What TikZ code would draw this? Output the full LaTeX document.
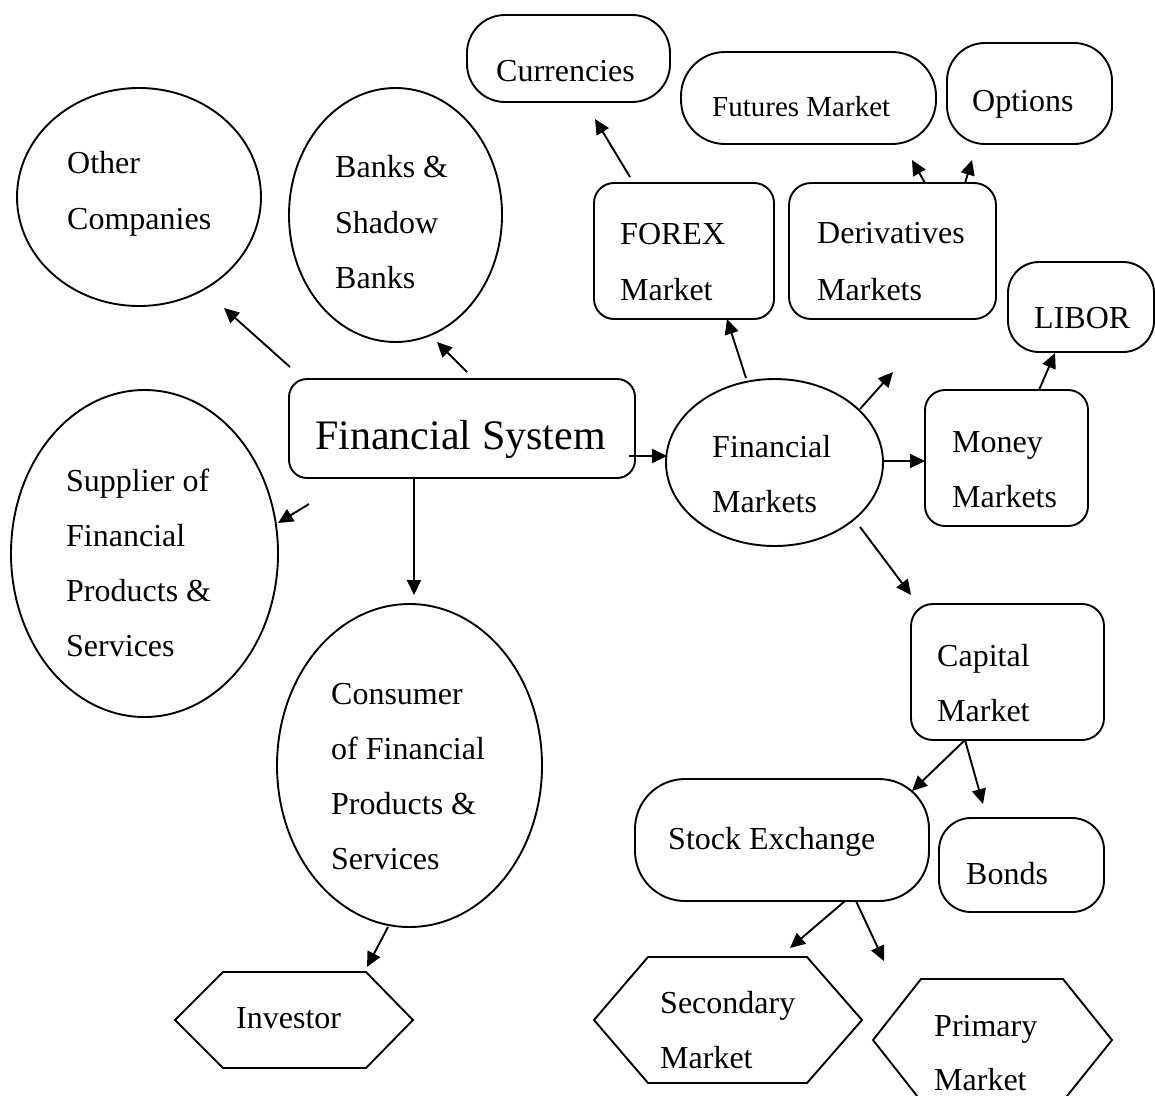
\documentclass[tikz,border=0pt]{standalone}
\usepackage{fontspec}
\setmainfont{Liberation Serif}
\usetikzlibrary{shapes.geometric,arrows.meta}
\begin{document}
\begin{tikzpicture}[x=1pt,y=-1pt,
  lw/.style={line width=1.9pt},
  oval/.style={draw,ellipse,lw,inner sep=0pt},
  rbox/.style={draw,rectangle,lw,inner sep=0pt},
  txt/.style={anchor=base west,inner sep=0pt,font=\fontsize{32}{32}\selectfont},
  txtsm/.style={txt,font=\fontsize{29}{29}\selectfont},
  txtbig/.style={txt,font=\fontsize{42}{42}\selectfont},
  arr/.style={lw,-{Triangle[length=15pt,width=14pt]}},
]
\useasboundingbox (0,0) rectangle (1155,1095);
\clip (0,0) rectangle (1155,1095);
\fill[white] (0,0) rectangle (1155,1095);

% ---------- shapes ----------
\node[oval,minimum width=244pt,minimum height=218pt] (OC) at (139,197) {};
\node[oval,minimum width=213pt,minimum height=254pt] (BK) at (395.5,215) {};
\node[oval,minimum width=267pt,minimum height=327pt] (SUP) at (144.5,553.5) {};
\node[oval,minimum width=265pt,minimum height=323pt] (CON) at (409.5,765.5) {};
\node[oval,minimum width=217pt,minimum height=167pt] (FM) at (774.5,462.5) {};

\node[rbox,rounded corners=38pt,minimum width=203pt,minimum height=87pt] (CUR) at (568.5,58.5) {};
\node[rbox,rounded corners=44pt,minimum width=255pt,minimum height=92pt] (FUT) at (808.5,98) {};
\node[rbox,rounded corners=38pt,minimum width=165pt,minimum height=101pt] (OPT) at (1029.5,93.5) {};
\node[rbox,rounded corners=20pt,minimum width=180pt,minimum height=136pt] (FX) at (684,251) {};
\node[rbox,rounded corners=22pt,minimum width=207pt,minimum height=136pt] (DER) at (892.5,251) {};
\node[rbox,rounded corners=31pt,minimum width=146pt,minimum height=90pt] (LIB) at (1081,307) {};
\node[rbox,rounded corners=18pt,minimum width=346pt,minimum height=99pt] (FS) at (462,428.5) {};
\node[rbox,rounded corners=20pt,minimum width=163pt,minimum height=136pt] (MM) at (1006.5,458) {};
\node[rbox,rounded corners=22pt,minimum width=193pt,minimum height=136pt] (CAP) at (1007.5,672) {};
\node[rbox,rounded corners=50pt,minimum width=294pt,minimum height=122pt] (SE) at (782,840) {};
\node[rbox,rounded corners=32pt,minimum width=165pt,minimum height=94pt] (BON) at (1021.5,865) {};

% hexagons
\coordinate (INV) at (294,1020);
\draw[lw] (INV) ++(-119,0) -- ++(48,-48) -- ++(143,0) -- ++(47,48) -- ++(-47,48) -- ++(-143,0) -- cycle;
\coordinate (SEC) at (728,1020);
\draw[lw] (SEC) ++(-134,0) -- ++(54,-63) -- ++(159,0) -- ++(55,63) -- ++(-55,63) -- ++(-159,0) -- cycle;
\coordinate (PRI) at (992.5,1040);
\draw[lw] (PRI) ++(-119.5,0) -- ++(48,-61) -- ++(142,0) -- ++(49,61) -- ++(-49,61) -- ++(-142,0) -- cycle;

% ---------- texts ----------
\node[txt] (tOC1) at (67,173) {Other};
\node[txt] (tOC2) at (67,229) {Companies};
\node[txt] (tBK1) at (335,177) {Banks \&};
\node[txt] (tBK2) at (335,233) {Shadow};
\node[txt] (tBK3) at (335,288) {Banks};
\node[txt] (tCUR) at (496,81) {Currencies};
\node[txtsm] (tFUT) at (712,116) {Futures Market};
\node[txt] (tOPT) at (972,111) {Options};
\node[txt] (tFX1) at (620,244) {FOREX};
\node[txt] (tFX2) at (620,300) {Market};
\node[txt] (tDER1) at (817,243) {Derivatives};
\node[txt] (tDER2) at (817,300) {Markets};
\node[txt] (tLIB) at (1034,328) {LIBOR};
\node[txtbig] (tFS) at (315,449) {Financial System};
\node[txt] (tFM1) at (712,457) {Financial};
\node[txt] (tFM2) at (712,512) {Markets};
\node[txt] (tMM1) at (952,452) {Money};
\node[txt] (tMM2) at (952,507) {Markets};
\node[txt] (tSUP1) at (66,491) {Supplier of};
\node[txt] (tSUP2) at (66,546) {Financial};
\node[txt] (tSUP3) at (66,601) {Products \&};
\node[txt] (tSUP4) at (66,656) {Services};
\node[txt] (tCAP1) at (937,666) {Capital};
\node[txt] (tCAP2) at (937,721) {Market};
\node[txt] (tCON1) at (331,704) {Consumer};
\node[txt] (tCON2) at (331,759) {of Financial};
\node[txt] (tCON3) at (331,814) {Products \&};
\node[txt] (tCON4) at (331,869) {Services};
\node[txt] (tSE) at (668,849) {Stock Exchange};
\node[txt] (tBON) at (966,884) {Bonds};
\node[txt] (tINV) at (236,1028) {Investor};
\node[txt] (tSEC1) at (660,1013) {Secondary};
\node[txt] (tSEC2) at (660,1068) {Market};
\node[txt] (tPRI1) at (934,1036) {Primary};
\node[txt] (tPRI2) at (934,1090) {Market};

% ---------- connector ends ----------
\coordinate (fs-oc) at (290,367);   \coordinate (oc-in) at (224,308);
\coordinate (fs-bk) at (467,372);   \coordinate (bk-in) at (437,342);
\coordinate (fx-cur) at (630,177);  \coordinate (cur-in) at (595,119);
\coordinate (der-fut) at (925,183); \coordinate (fut-in) at (912,160);
\coordinate (der-opt) at (965,183); \coordinate (opt-in) at (972,160);
\coordinate (fm-fx) at (746,378);   \coordinate (fx-in) at (727,319);
\coordinate (fm-ur) at (860,409);   \coordinate (ur-end) at (893,372);
\coordinate (fm-mm) at (884,461);   \coordinate (mm-in) at (925,461);
\coordinate (mm-lib) at (1039,390); \coordinate (lib-in) at (1055,353);
\coordinate (fm-cap) at (860,527);  \coordinate (cap-in) at (911,595);
\coordinate (fs-fm) at (629,456);   \coordinate (fm-in) at (667,456);
\coordinate (fs-sup) at (309,504);  \coordinate (sup-in) at (278,523);
\coordinate (fs-con) at (414,478);  \coordinate (con-in) at (414,595);
\coordinate (con-inv) at (388,927); \coordinate (inv-in) at (367,967);
\coordinate (cap-out) at (965,740); \coordinate (se-in) at (912,791);
\coordinate (bon-in) at (983,804);
\coordinate (se-sec) at (845,901);  \coordinate (sec-in) at (790,948);
\coordinate (se-pri) at (856,901);  \coordinate (pri-in) at (884,961);

% ---------- connectors ----------
\draw[arr] (fs-oc) -- (oc-in);
\draw[arr] (fs-bk) -- (bk-in);
\draw[arr] (fx-cur) -- (cur-in);
\draw[arr] (der-fut) -- (fut-in);
\draw[arr] (der-opt) -- (opt-in);
\draw[arr] (fm-fx) -- (fx-in);
\draw[arr] (fm-ur) -- (ur-end);
\draw[arr] (fm-mm) -- (mm-in);
\draw[arr] (mm-lib) -- (lib-in);
\draw[arr] (fm-cap) -- (cap-in);
\draw[arr] (fs-fm) -- (fm-in);
\draw[arr] (fs-sup) -- (sup-in);
\draw[arr] (fs-con) -- (con-in);
\draw[arr] (con-inv) -- (inv-in);
\draw[arr] (cap-out) -- (se-in);
\draw[arr] (cap-out) -- (bon-in);
\draw[arr] (se-sec) -- (sec-in);
\draw[arr] (se-pri) -- (pri-in);
\end{tikzpicture}
\end{document}
